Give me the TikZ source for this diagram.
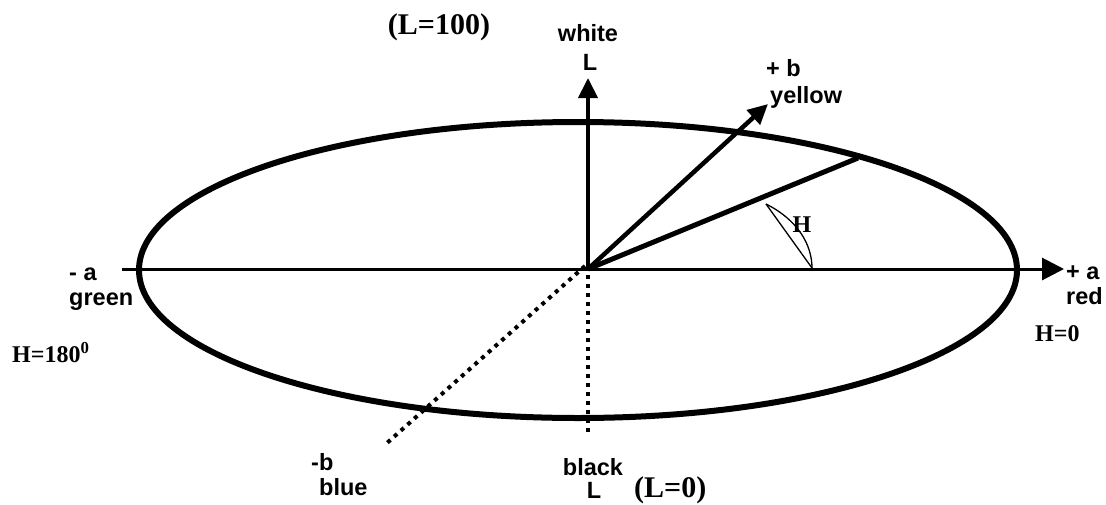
\documentclass[tikz,border=0pt]{standalone}
\usepackage{fontspec}
\setmainfont{Liberation Serif}
\newfontfamily\labsans{Liberation Sans}
\usetikzlibrary{arrows.meta}
\tikzset{
  lab/.style={inner sep=0pt, font=\labsans\bfseries\fontsize{23.5}{25}\selectfont},
  ser/.style={inner sep=0pt, font=\bfseries\fontsize{24}{26}\selectfont},
  bigser/.style={inner sep=0pt, font=\bfseries\fontsize{30}{32}\selectfont},
  axis/.style={line width=3pt, -{Triangle[length=22pt,width=22pt]}},
  vec/.style={line width=4.5pt, -{Triangle[length=20pt,width=19pt]}},
  dots/.style={line width=4pt, dash pattern=on 4pt off 5pt},
}
\begin{document}
\begin{tikzpicture}[x=1pt,y=-1pt]
\useasboundingbox (0,0) rectangle (1106,504);
% coordinates
\coordinate (O) at (588,269);
\coordinate (aneg) at (122,269);
\coordinate (apos) at (1064,269);
\coordinate (Ltip) at (588,78);
\coordinate (btip) at (768,104);
\coordinate (hue) at (858,158);
\coordinate (Lbotend) at (588,434);
\coordinate (bneg) at (387,443);
\coordinate (h1) at (766,204);
\coordinate (h2) at (812,268);
% ellipse
\draw[line width=6pt] (578,270) ellipse [x radius=439, y radius=148];
% axes
\draw[axis] (aneg) -- (apos);
\draw[vec, line width=4pt] (O) -- (Ltip);
\draw[vec] (O) -- (btip);
\draw[line width=5pt] (O) -- (hue);
\draw[dots] ([yshift=3pt]O) -- (Lbotend);
\draw[dots] ([shift={(-3pt,3pt)}]O) -- (bneg);
% angle H
\draw[line width=1.3pt] (h1) -- (h2);
\draw[line width=1.3pt] (h1) .. controls (798,220) and (812,245) .. (h2);
% labels
\node[bigser] (L100) at (439,27) {(L=100)};
\node[lab] (white) at (588,33) {white};
\node[lab] (Ltop) at (590,62) {L};
\node[lab, anchor=west] (plusb) at (766,68) {+ b};
\node[lab, anchor=west] (yellow) at (770,97) {yellow};
\node[ser] (Hlab) at (802,225) {H};
\node[lab, anchor=west] (minusa) at (69,274) {- a};
\node[lab, anchor=west] (green) at (69,302) {green};
\node[ser, anchor=west] (H180) at (12,353) {H=180\textsuperscript{0}};
\node[lab, anchor=west] (plusa) at (1066,273) {+ a};
\node[lab, anchor=west] (red) at (1066,296) {red};
\node[ser, anchor=west] (H0) at (1035,334) {H=0};
\node[lab, anchor=west] (mb) at (311,462) {-b};
\node[lab, anchor=west] (blue) at (319,487) {blue};
\node[lab] (black) at (593,467) {black};
\node[lab] (Lbot) at (594,490) {L};
\node[bigser, anchor=west] (L0) at (634,490) {(L=0)};
\end{tikzpicture}
\end{document}
